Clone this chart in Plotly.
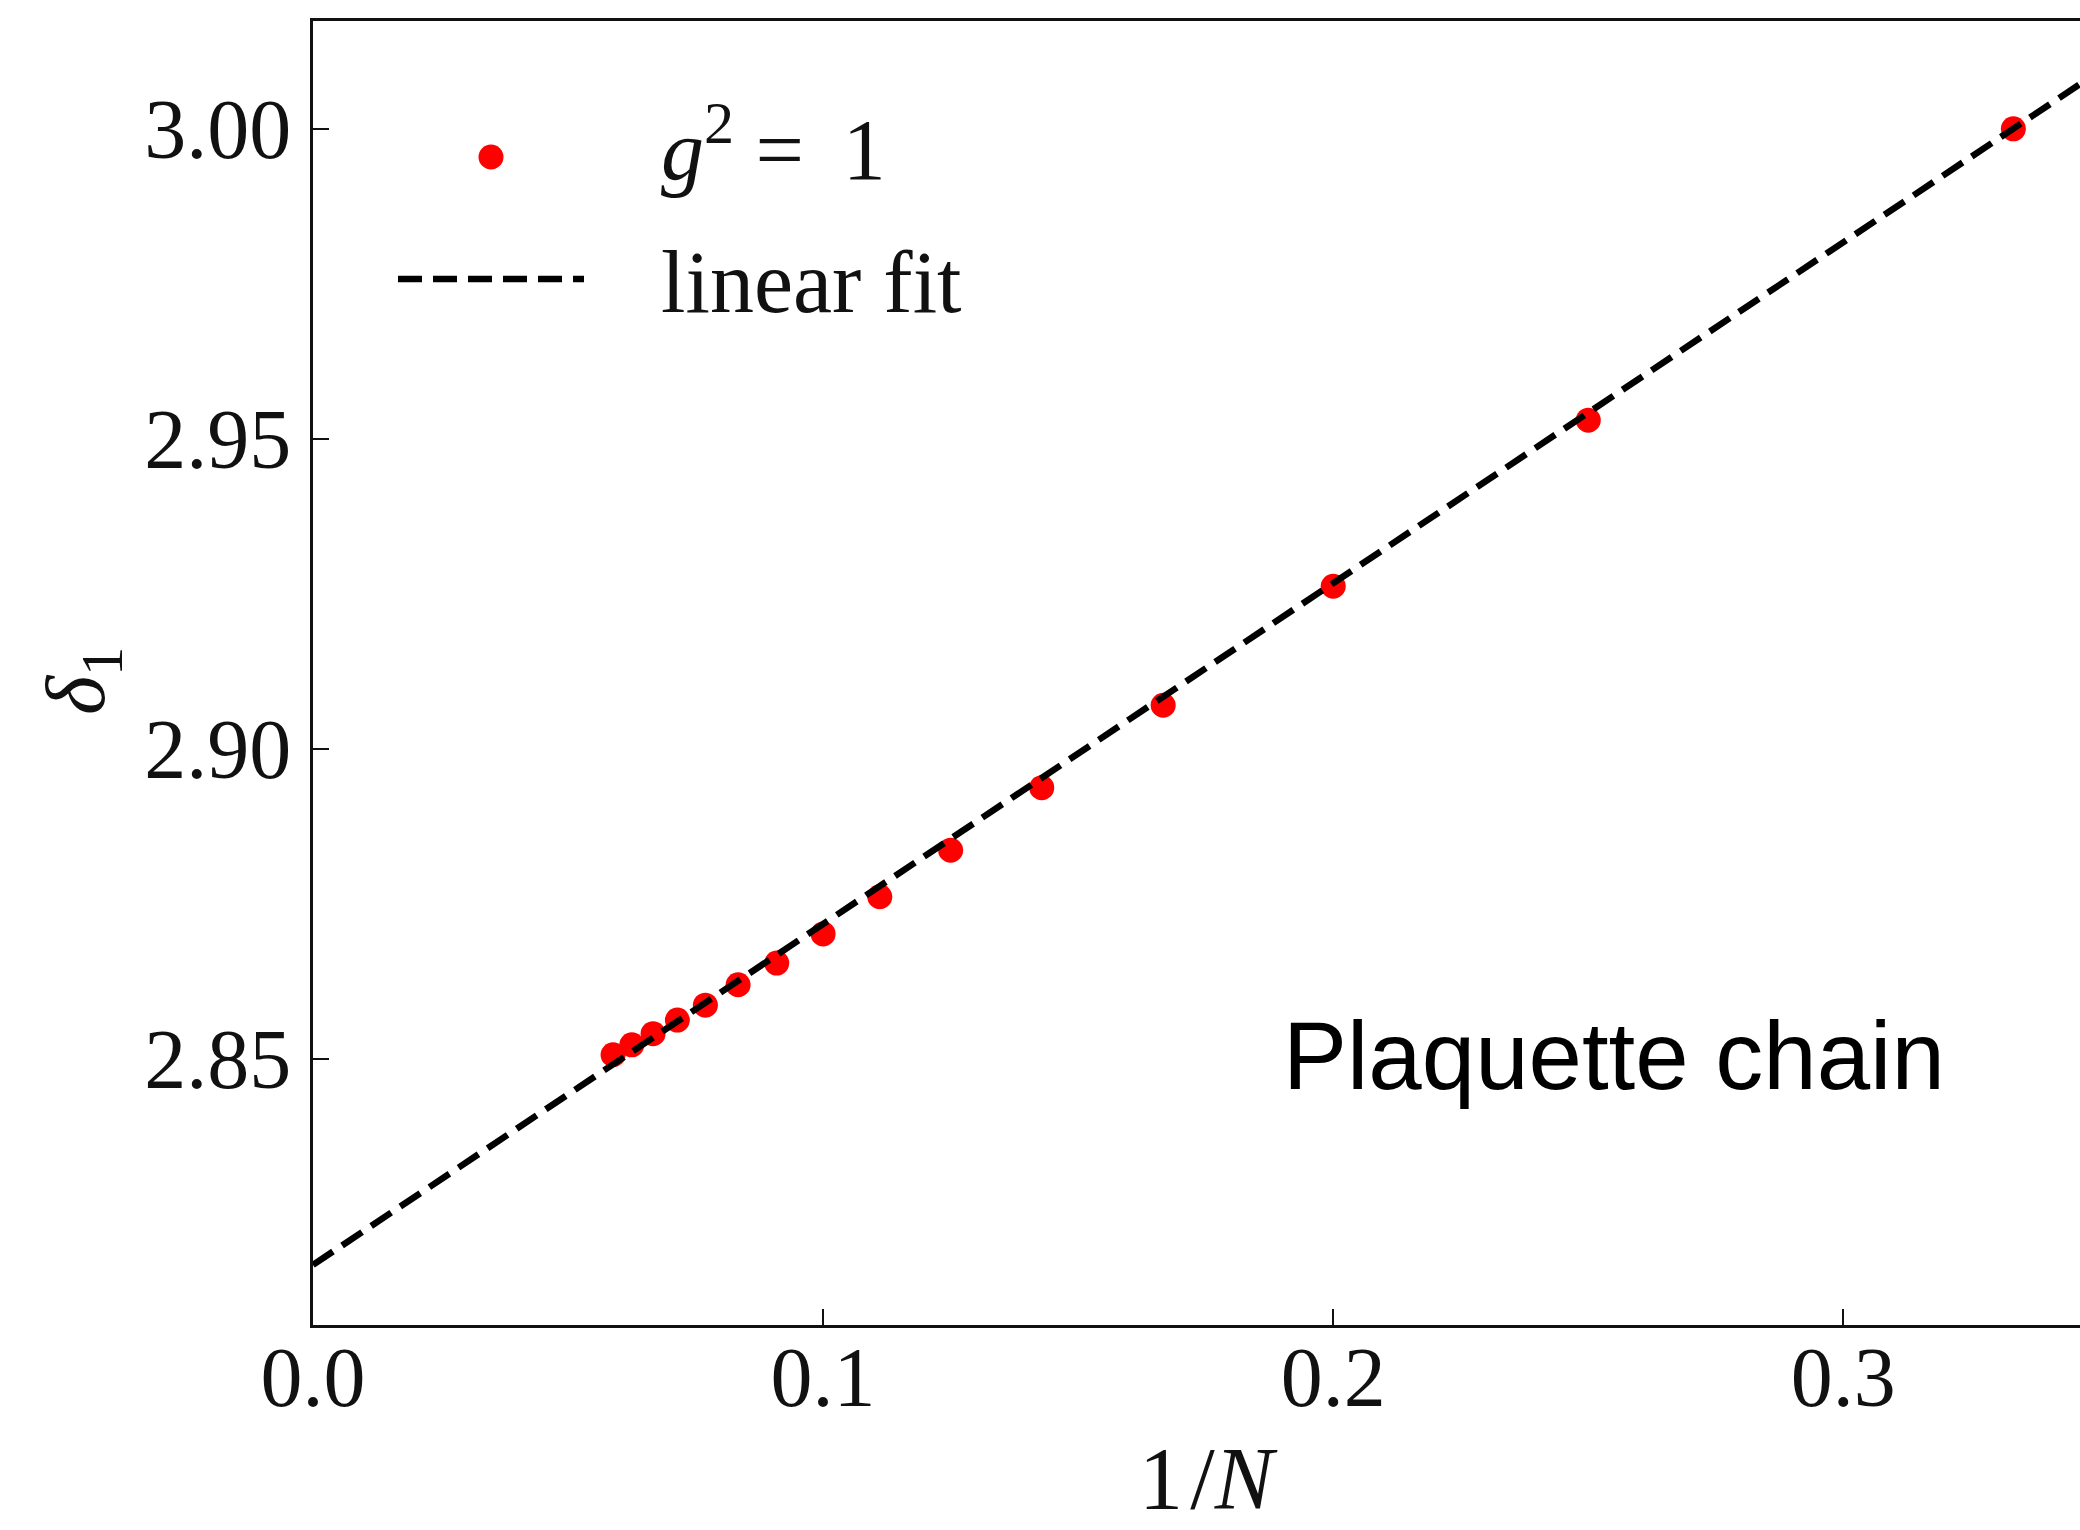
import plotly.graph_objects as go

# System sizes N and the measured gap delta_1 at g^2 = 1
N_values = [3, 4, 5, 6, 7, 8, 9, 10, 11, 12, 13, 14, 15, 16, 17]
delta_1 = [3.0000, 2.9530, 2.9262, 2.9070, 2.8937, 2.8836, 2.8761, 2.8701,
           2.8654, 2.8619, 2.8586, 2.8562, 2.8540, 2.8522, 2.8506]
inv_N = [1.0 / n for n in N_values]

# Linear fit delta_1 = intercept + slope * (1/N)
fit_intercept = 2.8167
fit_slope = 0.55

x_range = [0.0, 0.3464]
y_range = [2.8070, 3.0174]
x_ticks = [0.0, 0.1, 0.2, 0.3]
y_ticks = [2.85, 2.90, 2.95, 3.00]

fit_x = [x_range[0], x_range[1]]
fit_y = [fit_intercept + fit_slope * v for v in fit_x]

W, H = 2080, 1530
ML, MR, MT, MB = 313, 0, 21, 205
PW, PH = W - ML - MR, H - MT - MB

SERIF = "Liberation Serif, Times New Roman, serif"
SANS = "Liberation Sans, Arial, Helvetica, sans-serif"
RED = "#ff0000"
INK = "#111111"
DASH = "24px,11px"


def px_x(px):
    return (px - ML) / PW


def px_y(py):
    return (H - MB - py) / PH


fig = go.Figure()

fig.add_trace(go.Scatter(
    x=inv_N, y=delta_1, mode="markers",
    marker=dict(color=RED, size=25, line=dict(width=0)),
    showlegend=False, hoverinfo="x+y",
))

fig.add_trace(go.Scatter(
    x=fit_x, y=fit_y, mode="lines",
    line=dict(color="black", width=6.5, dash=DASH),
    showlegend=False, hoverinfo="skip",
))

axis_common = dict(
    showgrid=False, zeroline=False,
    showline=True, linecolor=INK, linewidth=3,
    ticks="inside", ticklen=16, tickwidth=2, tickcolor=INK,
    tickfont=dict(family=SERIF, size=84, color=INK),
)

fig.update_xaxes(
    range=x_range, tickvals=x_ticks, tickformat=".1f",
    mirror=True, ticklabelstandoff=-23, **axis_common,
)
fig.update_yaxes(
    range=y_range, tickvals=y_ticks, tickformat=".2f",
    mirror=False, ticklabelstandoff=2, **axis_common,
)

annotations = [
    # axis titles
    dict(text="1\u200a/<i>N</i>", x=px_x(1208), y=px_y(1529), xref="paper", yref="paper",
         showarrow=False, xanchor="center", yanchor="bottom",
         font=dict(family=SERIF, size=88, color=INK)),
    dict(text="<i>δ</i><sub>1</sub>", x=px_x(82), y=px_y(681), xref="paper", yref="paper",
         showarrow=False, xanchor="center", yanchor="middle", textangle=-90,
         font=dict(family=SERIF, size=84, color=INK)),
    # legend labels
    dict(text="<i>g</i><sup>2</sup> = \u20091", x=px_x(659), y=px_y(143),
         xref="paper", yref="paper",
         showarrow=False, xanchor="left", yanchor="middle",
         font=dict(family=SERIF, size=86, color=INK)),
    dict(text="linear fit", x=px_x(659), y=px_y(283), xref="paper", yref="paper",
         showarrow=False, xanchor="left", yanchor="middle",
         font=dict(family=SERIF, size=88, color=INK)),
    # panel label
    dict(text="Plaquette chain", x=px_x(1281), y=px_y(1055), xref="paper", yref="paper",
         showarrow=False, xanchor="left", yanchor="middle",
         font=dict(family=SANS, size=96, color="black")),
]

shapes = [
    # legend key: marker
    dict(type="circle", xref="paper", yref="paper",
         xsizemode="pixel", ysizemode="pixel",
         xanchor=px_x(491), yanchor=px_y(157),
         x0=-12.5, x1=12.5, y0=-12.5, y1=12.5,
         fillcolor=RED, line=dict(width=0)),
    # legend key: dashed line
    dict(type="line", xref="paper", yref="paper",
         x0=px_x(398), x1=px_x(584), y0=px_y(279), y1=px_y(279),
         line=dict(color="black", width=6.5, dash=DASH)),
]

fig.update_layout(
    width=W, height=H,
    margin=dict(l=ML, r=MR, t=MT, b=MB, pad=0),
    paper_bgcolor="white", plot_bgcolor="white",
    showlegend=False,
    annotations=annotations, shapes=shapes,
)

fig.write_html("out.html")
